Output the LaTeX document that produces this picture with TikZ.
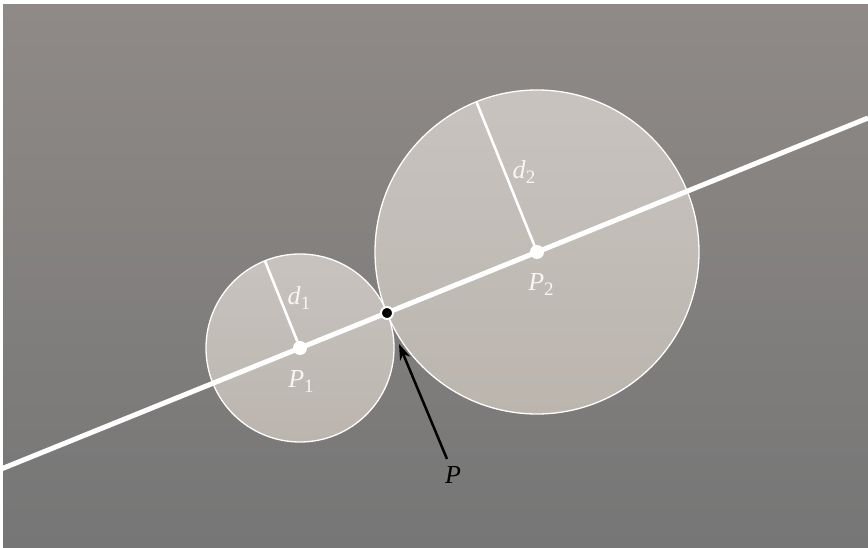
\documentclass[tikz,border=0pt]{standalone}
\usepackage{fontspec}
\setmainfont{Liberation Serif}
\usetikzlibrary{arrows.meta}
\definecolor{bgtop}{RGB}{143,138,135}
\definecolor{bgbot}{RGB}{118,118,118}
\definecolor{disktop}{RGB}{200,195,191}
\definecolor{diskbot}{RGB}{187,181,174}
\definecolor{labelc}{RGB}{248,246,243}
\newcommand{\lbl}[2]{\textit{#1}\raisebox{-5pt}{\fontsize{19}{19}\selectfont #2}}
\begin{document}
\begin{tikzpicture}[x=1pt,y=-1pt,
  disk/.style={draw=white,line width=1.3pt,top color=disktop,bottom color=diskbot},
  radius line/.style={draw=white,line width=2.6pt},
  axis line/.style={draw=white,line width=5pt},
  center dot/.style={circle,fill=white,inner sep=0pt,minimum size=14pt},
  tangent dot/.style={circle,fill=black,draw=white,line width=2pt,inner sep=0pt,minimum size=12pt},
  lab/.style={text=labelc,font=\fontsize{26}{26}\selectfont,inner sep=0pt},
  plab/.style={text=black,font=\fontsize{26}{26}\selectfont,inner sep=0pt},
  pointer/.style={draw=black,line width=2.5pt,-{Stealth[length=16pt,width=11pt]}}]
\useasboundingbox (0,0) rectangle (868,548);
\fill[white] (0,0) rectangle (868,548);
\shade[top color=bgtop,bottom color=bgbot] (3,5) rectangle (868,548);
\begin{scope}
\clip (3,5) rectangle (868,548);
\coordinate (P1) at (300,348);
\coordinate (P2) at (537,252);
\coordinate (P) at (387,313);
\shade[disk] (P1) circle[radius=94];
\shade[disk] (P2) circle[radius=162];
\coordinate (R1) at (265,261);
\coordinate (R2) at (476.5,102);
\draw[radius line] (P1) -- (R1);
\draw[radius line] (P2) -- (R2);
\coordinate (L0) at (0,469.5);
\coordinate (L1) at (868,118);
\draw[axis line] (L0) -- (L1);
\node[center dot] (c1) at (P1) {};
\node[center dot] (c2) at (P2) {};
\node[tangent dot] (t) at (P) {};
\node[lab] (d1) at (299,298) {\lbl{d}{1}};
\node[lab] (d2) at (524,172) {\lbl{d}{2}};
\node[lab] (p1) at (301,381) {\lbl{P}{1}};
\node[lab] (p2) at (541,284) {\lbl{P}{2}};
\node[plab] (pl) at (453,475) {\textit{P}};
\coordinate (tail) at (447,459);
\coordinate (tip) at (399,344);
\draw[pointer] (tail) -- (tip);
\end{scope}
\end{tikzpicture}
\end{document}
